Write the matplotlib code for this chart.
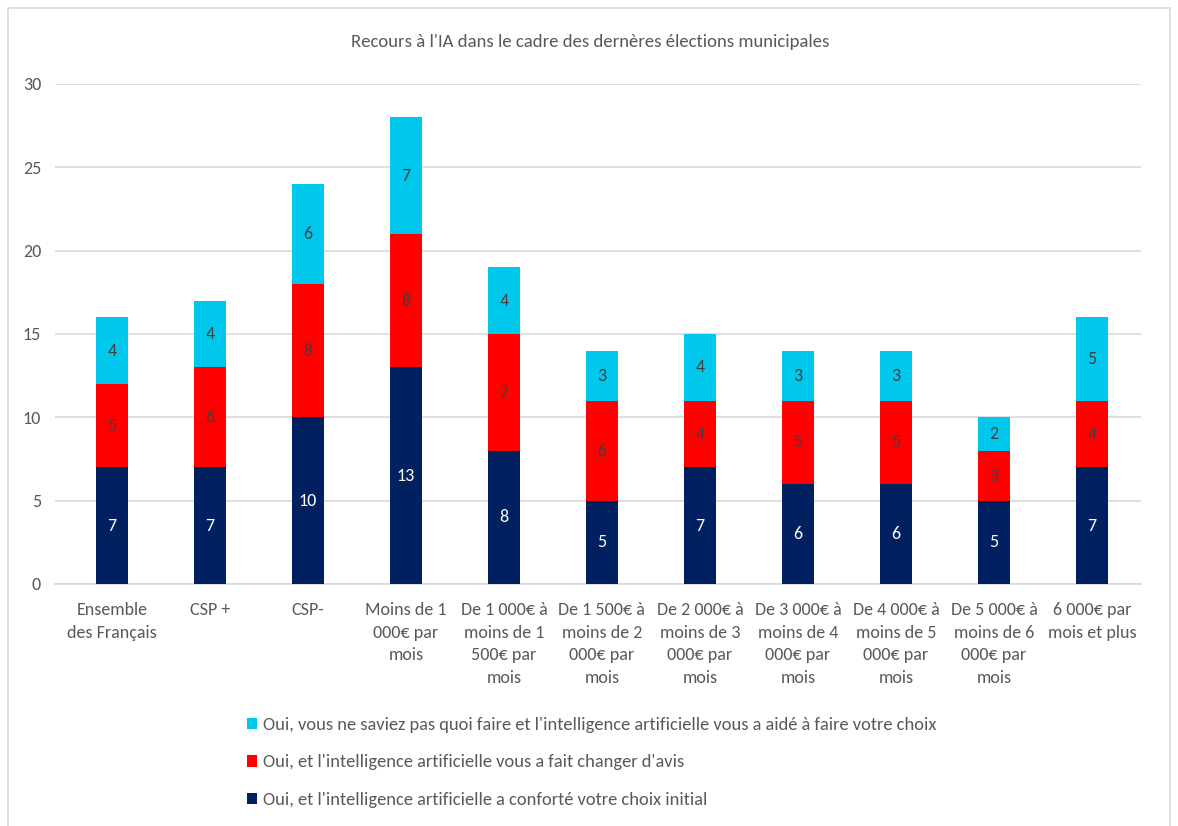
import matplotlib.pyplot as plt
from matplotlib.patches import Rectangle
import numpy as np

plt.rcParams['font.family'] = ['Carlito', 'Lato', 'DejaVu Sans']

categories = ["Ensemble\ndes Français", "CSP +", "CSP-", "Moins de 1\n000€ par\nmois",
              "De 1 000€ à\nmoins de 1\n500€ par\nmois", "De 1 500€ à\nmoins de 2\n000€ par\nmois",
              "De 2 000€ à\nmoins de 3\n000€ par\nmois", "De 3 000€ à\nmoins de 4\n000€ par\nmois",
              "De 4 000€ à\nmoins de 5\n000€ par\nmois", "De 5 000€ à\nmoins de 6\n000€ par\nmois",
              "6 000€ par\nmois et plus"]
conforte = [7, 7, 10, 13, 8, 5, 7, 6, 6, 5, 7]
change_avis = [5, 6, 8, 8, 7, 6, 4, 5, 5, 3, 4]
aide_choix = [4, 4, 6, 7, 4, 3, 4, 3, 3, 2, 5]

lab_conforte = "Oui, et l'intelligence artificielle a conforté votre choix initial"
lab_change = "Oui, et l'intelligence artificielle vous a fait changer d'avis"
lab_aide = "Oui, vous ne saviez pas quoi faire et l'intelligence artificielle vous a aidé à faire votre choix"

navy = '#002060'
red = '#FF0000'
cyan = '#00C8EC'
grey = '#595959'

fig = plt.figure(figsize=(11.78, 8.26), dpi=100)
# outer chart frame
fig.patches.append(Rectangle((8/1178, -0.01), 1162/1178, 1 - 8/826 + 0.01,
                             transform=fig.transFigure, fill=False,
                             edgecolor='#D9D9D9', linewidth=1.2))
ax = fig.add_axes([55/1178, 1 - 584/826, (1141 - 55)/1178, 500/826])

x = np.arange(len(categories))
w = 0.32
b1 = ax.bar(x, conforte, w, color=navy, label=lab_conforte, zorder=3)
b2 = ax.bar(x, change_avis, w, bottom=conforte, color=red, label=lab_change, zorder=3)
bottom3 = np.array(conforte) + np.array(change_avis)
b3 = ax.bar(x, aide_choix, w, bottom=bottom3, color=cyan, label=lab_aide, zorder=3)

ax.bar_label(b1, label_type='center', color='white', fontsize=13)
ax.bar_label(b2, label_type='center', color='#404040', fontsize=13)
ax.bar_label(b3, label_type='center', color='#404040', fontsize=13)

ax.set_ylim(0, 30)
ax.set_xlim(-0.58, 10.5)
ax.set_yticks(range(0, 31, 5))
ax.yaxis.grid(True, color='#D9D9D9', linewidth=1.2, zorder=0)
ax.set_axisbelow(True)
for s in ['top', 'right', 'left']:
    ax.spines[s].set_visible(False)
ax.spines['bottom'].set_color('#D9D9D9')
ax.spines['bottom'].set_linewidth(1.2)
ax.tick_params(axis='both', length=0, labelsize=13, colors=grey)
ax.tick_params(axis='y', pad=10)
ax.tick_params(axis='x', pad=13)
ax.set_xticks(x)
ax.set_xticklabels(categories, linespacing=1.5)

fig.text(590/1178, 1 - 42/826, "Recours à l'IA dans le cadre des dernères élections municipales",
         ha='center', va='center', fontsize=13.5, color=grey)

handles = [b3, b2, b1]
fig.legend(handles, [lab_aide, lab_change, lab_conforte], loc='upper left',
           bbox_to_anchor=(238/1178, 1 - 708/826), frameon=False, fontsize=13.3,
           labelcolor=grey, handlelength=0.55, handleheight=0.55, handletextpad=0.3,
           labelspacing=1.15, borderpad=0)

fig.savefig('out.png', dpi=100)
